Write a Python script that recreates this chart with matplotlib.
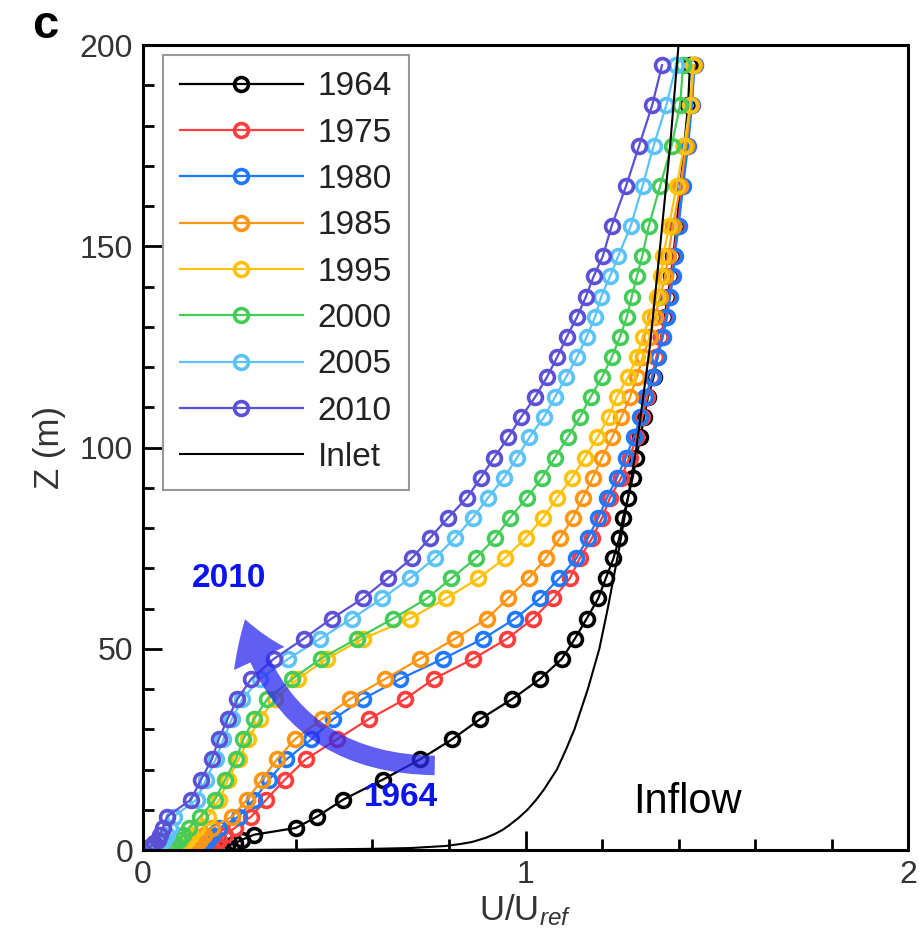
import matplotlib
matplotlib.use("Agg")
import matplotlib.pyplot as plt
from matplotlib.patches import FancyArrowPatch
from matplotlib.ticker import MultipleLocator

plt.rcParams['font.family'] = ['Liberation Sans', 'DejaVu Sans']
plt.rcParams['mathtext.fontset'] = 'custom'
plt.rcParams['mathtext.rm'] = 'Liberation Sans'
plt.rcParams['mathtext.it'] = 'Liberation Sans:italic'

# heights of the sample points (m)
z_levels = [0.4, 1.0, 1.7, 2.6, 3.8, 5.5, 8.3,
            12.5, 17.5, 22.5, 27.5, 32.5, 37.5, 42.5, 47.5, 52.5, 57.5,
            62.5, 67.5, 72.5, 77.5, 82.5, 87.5, 92.5, 97.5, 102.5, 107.5,
            112.5, 117.5, 122.5, 127.5, 132.5, 137.5, 142.5, 147.5,
            155, 165, 175, 185, 195]

u_1964 = [0.20, 0.22, 0.24, 0.26, 0.29, 0.40, 0.455,
          0.523, 0.627, 0.724, 0.808, 0.881, 0.965, 1.038, 1.095, 1.129, 1.160,
          1.190, 1.210, 1.230, 1.245, 1.255, 1.268, 1.280, 1.290, 1.300, 1.310,
          1.320, 1.335, 1.345, 1.355, 1.364, 1.372, 1.380, 1.386,
          1.395, 1.405, 1.415, 1.425, 1.430]
u_1975 = [0.17, 0.18, 0.19, 0.20, 0.215, 0.24, 0.283,
          0.322, 0.371, 0.425, 0.507, 0.590, 0.685, 0.760, 0.863, 0.952, 1.020,
          1.073, 1.116, 1.142, 1.174, 1.200, 1.221, 1.250, 1.272, 1.290, 1.305,
          1.318, 1.330, 1.342, 1.355, 1.366, 1.375, 1.382, 1.387,
          1.398, 1.410, 1.422, 1.432, 1.440]
u_1980 = [0.14, 0.15, 0.16, 0.17, 0.18, 0.20, 0.25,
          0.290, 0.330, 0.375, 0.440, 0.497, 0.575, 0.672, 0.784, 0.889, 0.973,
          1.038, 1.088, 1.133, 1.163, 1.190, 1.213, 1.239, 1.262, 1.283, 1.300,
          1.312, 1.332, 1.346, 1.359, 1.370, 1.378, 1.386, 1.390,
          1.400, 1.412, 1.425, 1.435, 1.442]
u_1985 = [0.12, 0.13, 0.14, 0.15, 0.16, 0.18, 0.233,
          0.272, 0.311, 0.350, 0.397, 0.467, 0.541, 0.633, 0.724, 0.816, 0.899,
          0.954, 1.008, 1.053, 1.090, 1.124, 1.150, 1.176, 1.200, 1.226, 1.250,
          1.273, 1.291, 1.307, 1.325, 1.339, 1.352, 1.365, 1.373,
          1.385, 1.405, 1.420, 1.432, 1.440]
u_1995 = [0.085, 0.095, 0.105, 0.115, 0.125, 0.14, 0.17,
          0.200, 0.222, 0.250, 0.275, 0.305, 0.345, 0.405, 0.480, 0.575, 0.698,
          0.792, 0.877, 0.946, 1.000, 1.046, 1.082, 1.122, 1.155, 1.188, 1.217,
          1.238, 1.268, 1.291, 1.307, 1.325, 1.344, 1.355, 1.360,
          1.375, 1.395, 1.415, 1.430, 1.438]
u_2000 = [0.065, 0.075, 0.085, 0.095, 0.105, 0.12, 0.15,
          0.188, 0.215, 0.243, 0.262, 0.290, 0.325, 0.390, 0.465, 0.559, 0.654,
          0.742, 0.806, 0.870, 0.920, 0.959, 1.004, 1.043, 1.077, 1.110, 1.142,
          1.170, 1.200, 1.226, 1.247, 1.265, 1.278, 1.291, 1.305,
          1.322, 1.352, 1.382, 1.404, 1.412]
u_2005 = [0.03, 0.04, 0.048, 0.056, 0.063, 0.07, 0.08,
          0.140, 0.165, 0.190, 0.210, 0.232, 0.260, 0.305, 0.380, 0.463, 0.546,
          0.625, 0.698, 0.763, 0.815, 0.862, 0.902, 0.944, 0.978, 1.010, 1.048,
          1.077, 1.106, 1.135, 1.160, 1.182, 1.198, 1.221, 1.242,
          1.275, 1.306, 1.335, 1.368, 1.394]
u_2010 = [0.015, 0.022, 0.03, 0.038, 0.045, 0.052, 0.063,
          0.125, 0.152, 0.180, 0.198, 0.221, 0.247, 0.283, 0.342, 0.420, 0.493,
          0.575, 0.640, 0.703, 0.750, 0.797, 0.847, 0.883, 0.918, 0.955, 0.988,
          1.025, 1.056, 1.083, 1.108, 1.135, 1.158, 1.178, 1.202,
          1.225, 1.263, 1.297, 1.331, 1.357]

inlet_z = [0, 0.1, 0.3, 0.5, 1, 1.5, 2, 3, 4, 5, 6, 8, 10, 12.5, 15, 20,
           25, 30, 40, 50, 60, 75, 100, 125, 150, 175, 200]
inlet_u = [0.20, 0.40, 0.60, 0.70, 0.79, 0.83, 0.86, 0.895, 0.92, 0.94,
           0.955, 0.982, 1.005, 1.028, 1.048, 1.082, 1.106, 1.128, 1.163,
           1.193, 1.215, 1.245, 1.290, 1.325, 1.352, 1.378, 1.400]

years = ['1964', '1975', '1980', '1985', '1995', '2000', '2005', '2010']
profiles = [u_1964, u_1975, u_1980, u_1985, u_1995, u_2000, u_2005, u_2010]
colors = ['black', '#ff3d3d', '#1f78ff', '#ff9510', '#ffc20a', '#45cc58',
          '#5cc3f7', '#5b50d6']

fig = plt.figure(figsize=(9.2, 9.4), dpi=100)
ax = fig.add_axes([0.1554, 0.0957, 0.8316, 0.8564])

for year, u, c in zip(years, profiles, colors):
    ax.plot(u, z_levels, color=c, lw=1.6, marker='o', ms=10, mfc='none',
            mew=2.6, label=year)
ax.plot(inlet_u, inlet_z, color='black', lw=1.5, label='Inlet')

ax.set_xlim(0, 2)
ax.set_ylim(0, 200)
ax.xaxis.set_major_locator(MultipleLocator(1))
ax.xaxis.set_minor_locator(MultipleLocator(0.2))
ax.yaxis.set_major_locator(MultipleLocator(50))
ax.yaxis.set_minor_locator(MultipleLocator(10))
ax.tick_params(which='both', direction='in', width=2, labelsize=23,
               labelcolor='#333333', top=False, right=False)
ax.tick_params(which='major', length=14, pad=7)
ax.tick_params(which='minor', length=8)
for sp in ax.spines.values():
    sp.set_linewidth(2.2)

ax.set_xlabel('U/U$_{\\mathit{ref}}$', fontsize=25, color='#333333', labelpad=2)
ax.set_ylabel('Z (m)', fontsize=25, color='#333333', labelpad=10)

leg = ax.legend(loc='upper left', bbox_to_anchor=(0.026, 0.988), borderaxespad=0,
                fontsize=24, handlelength=3.7, handletextpad=0.45,
                labelspacing=0.46, borderpad=0.5, fancybox=False, framealpha=1,
                edgecolor='#999999')
leg.get_frame().set_linewidth(1.5)
for t in leg.get_texts():
    t.set_color('#222222')

# curved arrow showing the shift from 1964 to 2010
arrow = FancyArrowPatch((0.77, 21.0), (0.265, 58), connectionstyle='arc3,rad=-0.38',
                        arrowstyle='simple,head_width=40,head_length=30,tail_width=14',
                        mutation_scale=1, color='#2a2af0', alpha=0.75, lw=0, zorder=5)
ax.add_patch(arrow)

ax.text(0.225, 67.5, '2010', color='#0a14f0', fontsize=24, fontweight='bold',
        ha='center', va='center')
ax.text(0.675, 13.0, '1964', color='#0a14f0', fontsize=24, fontweight='bold',
        ha='center', va='center')
ax.text(1.422, 12.0, 'Inflow', color='black', fontsize=30, ha='center', va='center')

fig.text(0.049, 0.972, 'c', fontsize=34, fontweight='bold', ha='center', va='center')

fig.savefig('out.png', dpi=100)
